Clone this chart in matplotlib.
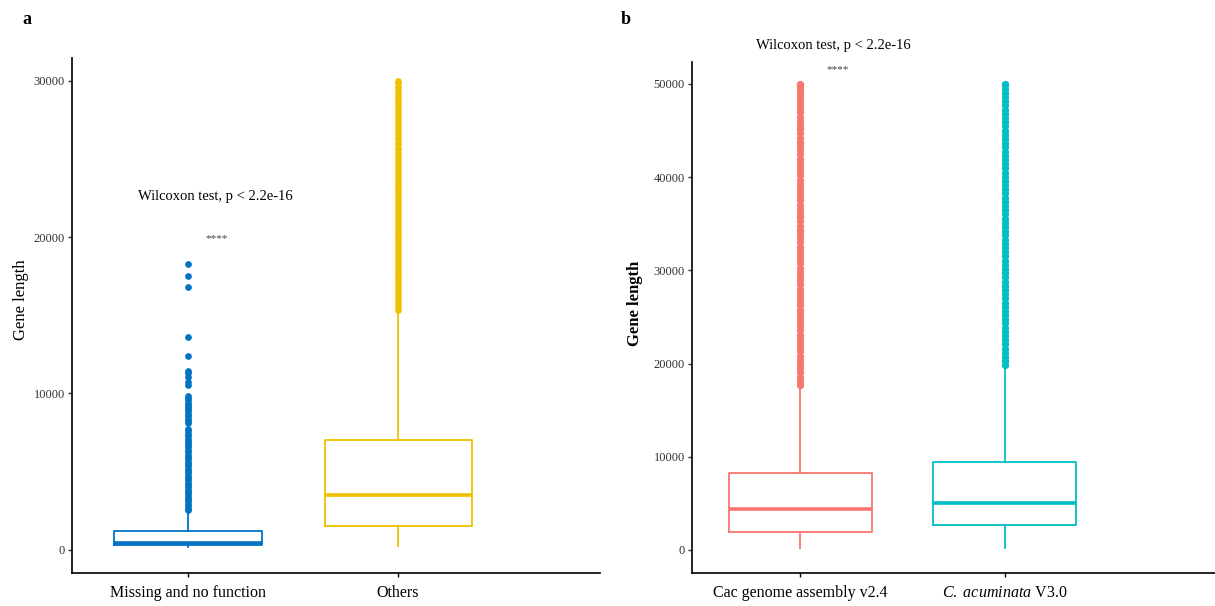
import matplotlib.pyplot as plt

plt.rcParams['font.family'] = ['Liberation Serif', 'DejaVu Serif']
plt.rcParams['mathtext.fontset'] = 'custom'
plt.rcParams['mathtext.rm'] = 'Liberation Serif'
plt.rcParams['mathtext.it'] = 'Liberation Serif:italic'

# panel a: gene length by group (box stats)
groups_a = ["Missing and no function", "Others"]
colors_a = ["#0073C2", "#EFC000"]
q1_a = [320, 1530]
med_a = [440, 3510]
q3_a = [1220, 7030]
wlo_a = [210, 250]
whi_a = [2450, 15300]
fliers_a1 = [18270, 17500, 16820, 13630, 12400, 11450, 11300, 11080, 10750, 10540,
             9840, 9700, 9560, 9420, 9280, 9140, 9010, 8870, 8720, 8560, 8400, 8250, 8110,
             7730, 7580, 7420, 7260, 7100, 6960, 6840, 6700, 6550, 6400, 6250, 6100,
             5950, 5800, 5650, 5500, 5350, 5200, 5050, 4900, 4750, 4600, 4450, 4300,
             4150, 4000, 3850, 3700, 3550, 3400, 3250, 3100, 2950, 2800, 2650, 2560]
fliers_a2 = [15350, 15600, 15850, 16100, 16350, 16600, 16850, 17100, 17350, 17600,
             17850, 18100, 18350, 18600, 18850, 19100, 19350, 19600, 19850, 20100,
             20350, 20600, 20850, 21100, 21350, 21600, 21850, 22100, 22350, 22600,
             22850, 23100, 23350, 23600, 23850, 24100, 24350, 24600, 24850, 25100,
             25350, 25600, 25850, 26100, 26350, 26600, 26850, 27100, 27350, 27600,
             27850, 28100, 28350, 28600, 28850, 29100, 29350, 29600, 29850, 29980]

# panel b: gene length by assembly
groups_b = ["Cac genome assembly v2.4", "$\\it{C.}$ $\\it{acuminata}$ V3.0"]
colors_b = ["#F8766D", "#00BFC4"]
q1_b = [1930, 2680]
med_b = [4400, 5040]
q3_b = [8260, 9440]
wlo_b = [210, 210]
whi_b = [17600, 19700]
fliers_b1 = [17700, 18150, 18600, 19050, 19500, 19950, 20400, 20850, 21300, 21750,
             22200, 22650, 23100, 23550, 24000, 24450, 24900, 25350, 25800, 26250,
             26700, 27150, 27600, 28050, 28500, 28950, 29400, 29850, 30300, 30750,
             31200, 31650, 32100, 32550, 33000, 33450, 33900, 34350, 34800, 35250,
             35700, 36150, 36600, 37050, 37500, 37950, 38400, 38850, 39300, 39750,
             40200, 40650, 41100, 41550, 42000, 42450, 42900, 43350, 43800, 44250,
             44700, 45150, 45600, 46050, 46500, 46950, 47400, 47900, 48300, 48700,
             49100, 49450, 49750, 50000]
fliers_b2 = [19800, 20250, 20700, 21150, 21600, 22050, 22500, 22950, 23400, 23850,
             24300, 24750, 25200, 25650, 26100, 26550, 27000, 27450, 27900, 28350,
             28800, 29250, 29700, 30150, 30600, 31050, 31500, 31950, 32400, 32850,
             33300, 33750, 34200, 34650, 35100, 35550, 36000, 36450, 36900, 37350,
             37800, 38250, 38700, 39150, 39600, 40050, 40500, 40950, 41400, 41850,
             42300, 42750, 43200, 43650, 44100, 44550, 45000, 45450, 45900, 46350,
             46800, 47250, 47700, 48150, 48600, 49050, 49500, 49850, 50000]

fig = plt.figure(figsize=(12.15, 6.06), dpi=100)
ax_a = fig.add_axes([0.0593, 0.0545, 0.4346, 0.8498])
ax_b = fig.add_axes([0.5695, 0.0545, 0.4305, 0.8432])


def draw_boxes(ax, q1, med, q3, wlo, whi, fliers, colors, msize):
    for i in range(2):
        st = [dict(med=med[i], q1=q1[i], q3=q3[i], whislo=wlo[i], whishi=whi[i],
                   fliers=fliers[i])]
        c = colors[i]
        ax.bxp(st, positions=[i + 1], widths=0.7, showcaps=False, patch_artist=False,
               boxprops=dict(color=c, lw=1.3),
               whiskerprops=dict(color=c, lw=1.3),
               medianprops=dict(color=c, lw=2.6),
               flierprops=dict(marker='o', markerfacecolor=c, markeredgecolor=c,
                               markersize=msize, linestyle='none'))


def style(ax, ylim, xlim, ticks, labels):
    ax.set_xlim(*xlim)
    ax.set_ylim(*ylim)
    ax.set_yticks(ticks)
    ax.set_yticklabels([str(t) for t in ticks])
    ax.set_xticks([1, 2])
    ax.set_xticklabels(labels, fontsize=11.5, color='black')
    for s in ['top', 'right']:
        ax.spines[s].set_visible(False)
    for s in ['left', 'bottom']:
        ax.spines[s].set_linewidth(1.2)
        ax.spines[s].set_color('black')
    ax.tick_params(axis='y', labelsize=9, colors='#333333', length=3, width=1, pad=2)
    ax.tick_params(axis='x', length=3, width=1, pad=6)


draw_boxes(ax_a, q1_a, med_a, q3_a, wlo_a, whi_a, [fliers_a1, fliers_a2], colors_a, 3.8)
style(ax_a, (-1470, 31440), (0.448, 2.962), [0, 10000, 20000, 30000], groups_a)
ax_a.text(1.129, 22620, "Wilcoxon test, p < 2.2e-16", ha='center', va='center', fontsize=10.5)
ax_a.text(1.139, 19900, "****", ha='center', va='center', fontsize=8, color='#444444')

draw_boxes(ax_b, q1_b, med_b, q3_b, wlo_b, whi_b, [fliers_b1, fliers_b2], colors_b, 4.2)
style(ax_b, (-2470, 52360), (0.47, 3.03), [0, 10000, 20000, 30000, 40000, 50000], groups_b)
ax_b.text(1.16, 54180, "Wilcoxon test, p < 2.2e-16", ha='center', va='center',
          fontsize=10.5, clip_on=False)
ax_b.text(1.181, 51500, "****", ha='center', va='center', fontsize=8, color='#444444',
          clip_on=False)

fig.text(0.017, 0.505, "Gene length", rotation=90, ha='center', va='center', fontsize=12)
fig.text(0.5226, 0.50, "Gene length", rotation=90, ha='center', va='center', fontsize=12,
         fontweight='bold')
fig.text(0.022, 0.968, "a", ha='center', va='center', fontsize=13, fontweight='bold')
fig.text(0.515, 0.968, "b", ha='center', va='center', fontsize=13, fontweight='bold')

fig.savefig("out.png", dpi=100)
